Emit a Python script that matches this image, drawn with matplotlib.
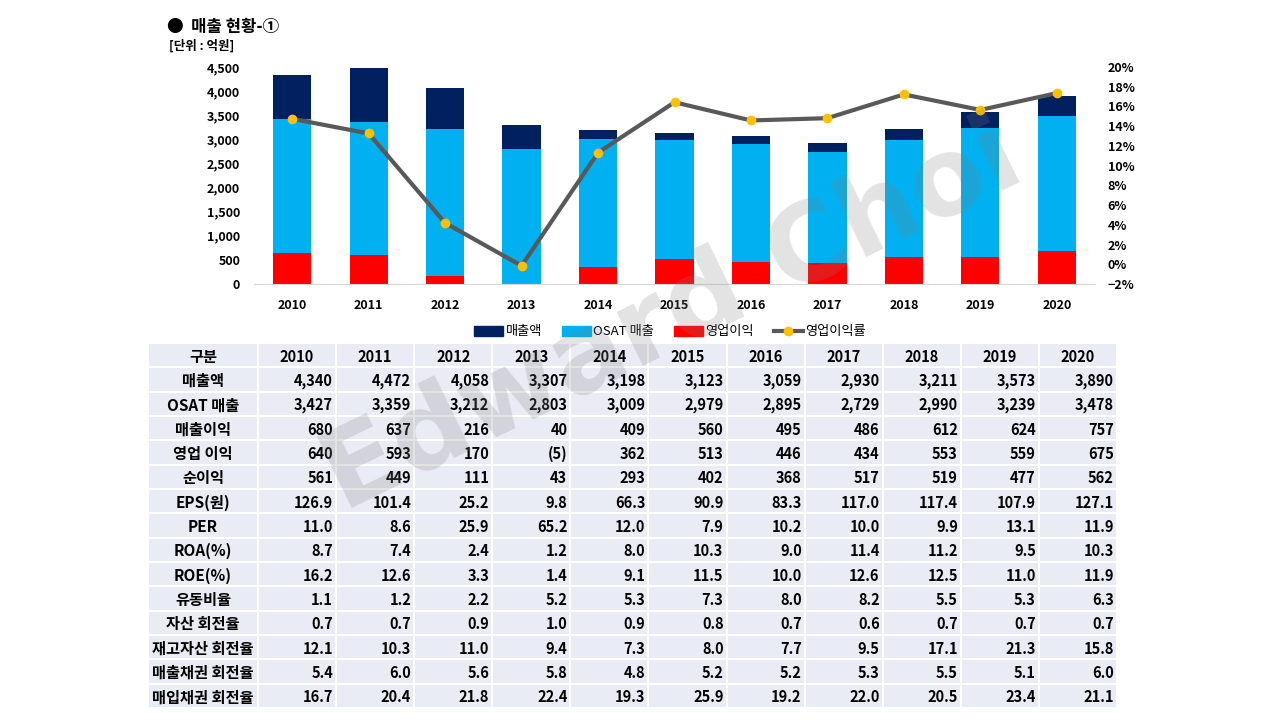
import matplotlib
matplotlib.use("Agg")
import matplotlib.pyplot as plt
from matplotlib.patches import Rectangle, Patch
from matplotlib.lines import Line2D
from matplotlib.ticker import PercentFormatter, FuncFormatter
import numpy as np

plt.rcParams['font.family'] = ['Noto Sans CJK KR', 'DejaVu Sans']

years = ['2010', '2011', '2012', '2013', '2014', '2015', '2016', '2017', '2018', '2019', '2020']

sales = [4340, 4472, 4058, 3307, 3198, 3123, 3059, 2930, 3211, 3573, 3890]
osat = [3427, 3359, 3212, 2803, 3009, 2979, 2895, 2729, 2990, 3239, 3478]
gross = [680, 637, 216, 40, 409, 560, 495, 486, 612, 624, 757]
op_income = [640, 593, 170, -5, 362, 513, 446, 434, 553, 559, 675]
net_income = [561, 449, 111, 43, 293, 402, 368, 517, 519, 477, 562]
eps = [126.9, 101.4, 25.2, 9.8, 66.3, 90.9, 83.3, 117.0, 117.4, 107.9, 127.1]
per = [11.0, 8.6, 25.9, 65.2, 12.0, 7.9, 10.2, 10.0, 9.9, 13.1, 11.9]
roa = [8.7, 7.4, 2.4, 1.2, 8.0, 10.3, 9.0, 11.4, 11.2, 9.5, 10.3]
roe = [16.2, 12.6, 3.3, 1.4, 9.1, 11.5, 10.0, 12.6, 12.5, 11.0, 11.9]
current_ratio = [1.1, 1.2, 2.2, 5.2, 5.3, 7.3, 8.0, 8.2, 5.5, 5.3, 6.3]
asset_turn = [0.7, 0.7, 0.9, 1.0, 0.9, 0.8, 0.7, 0.6, 0.7, 0.7, 0.7]
inv_turn = [12.1, 10.3, 11.0, 9.4, 7.3, 8.0, 7.7, 9.5, 17.1, 21.3, 15.8]
recv_turn = [5.4, 6.0, 5.6, 5.8, 4.8, 5.2, 5.2, 5.3, 5.5, 5.1, 6.0]
pay_turn = [16.7, 20.4, 21.8, 22.4, 19.3, 25.9, 19.2, 22.0, 20.5, 23.4, 21.1]

# operating margin from the table values
op_margin = [o / s for o, s in zip(op_income, sales)]

table_rows = [
    ('매출액', sales, 'int'),
    ('OSAT 매출', osat, 'int'),
    ('매출이익', gross, 'int'),
    ('영업 이익', op_income, 'int'),
    ('순이익', net_income, 'int'),
    ('EPS(원)', eps, 'dec'),
    ('PER', per, 'dec'),
    ('ROA(%)', roa, 'dec'),
    ('ROE(%)', roe, 'dec'),
    ('유동비율', current_ratio, 'dec'),
    ('자산 회전율', asset_turn, 'dec'),
    ('재고자산 회전율', inv_turn, 'dec'),
    ('매출채권 회전율', recv_turn, 'dec'),
    ('매입채권 회전율', pay_turn, 'dec'),
]

navy = '#002060'
blue = '#00B0F0'
red = '#FF0000'
line_c = '#595959'
dot_c = '#FFC000'

W, H = 1280, 720
fig = plt.figure(figsize=(12.8, 7.2), dpi=100)

# ---- chart ----
ax = fig.add_axes([254 / W, 1 - 284 / H, 841 / W, 217 / H])
x = np.arange(len(years))
ax.bar(x, sales, width=0.5, color=navy)
ax.bar(x, osat, width=0.5, color=blue)
ax.bar(x, op_income, width=0.5, color=red)
ax.set_xlim(-0.5, len(years) - 0.5)
ax.set_ylim(0, 4500)
ax.set_yticks(np.arange(0, 4501, 500))
ax.yaxis.set_major_formatter(FuncFormatter(lambda v, p: f'{int(v):,}'))
ax.set_xticks(x)
ax.set_xticklabels(years)
ax.tick_params(axis='both', length=0, labelsize=9)
ax.tick_params(axis='y', pad=10)
ax.tick_params(axis='x', pad=11)
for lab in ax.get_xticklabels() + ax.get_yticklabels():
    lab.set_fontweight('bold')
for s in ['top', 'left', 'right']:
    ax.spines[s].set_visible(False)
ax.spines['bottom'].set_color('#D9D9D9')

ax2 = ax.twinx()
ax2.plot(x, op_margin, color=line_c, lw=3, marker='o', ms=6,
         mfc=dot_c, mec=dot_c)
ax2.set_ylim(-0.02, 0.20)
ax2.set_yticks(np.arange(-0.02, 0.2001, 0.02))
ax2.yaxis.set_major_formatter(PercentFormatter(1.0, decimals=0))
ax2.tick_params(axis='y', length=0, labelsize=9, pad=9)
for lab in ax2.get_yticklabels():
    lab.set_fontweight('bold')
for s in ax2.spines.values():
    s.set_visible(False)

fig.text(167 / W, 1 - 27 / H, '●  매출 현황-①', fontsize=12, fontweight='bold',
         va='center', ha='left')
fig.text(169 / W, 1 - 46 / H, '[단위 : 억원]', fontsize=9, fontweight='bold',
         va='center', ha='left')

handles = [Patch(color=navy), Patch(color=blue), Patch(color=red),
           Line2D([0], [0], color=line_c, lw=3, marker='o', ms=6, mfc=dot_c, mec=dot_c)]
fig.legend(handles, ['매출액', 'OSAT 매출', '영업이익', '영업이익률'],
           loc='center', bbox_to_anchor=(670 / W, 1 - 332 / H), ncol=4,
           frameon=False, fontsize=9.5, handlelength=2.2, handleheight=0.7,
           handletextpad=0.2, columnspacing=1.5)

# ---- table ----
tw = 1117 - 148
th = 708 - 343
tab = fig.add_axes([148 / W, 1 - 708 / H, tw / W, th / H])
tab.set_xlim(0, tw)
tab.set_ylim(th, 0)
tab.axis('off')
first_w = 110
col_w = (tw - first_w) / len(years)
row_h = th / (len(table_rows) + 1)
cell_c = '#E9EBF5'


def fmt(v, kind):
    if kind == 'int':
        return f'({abs(v):,})' if v < 0 else f'{v:,}'
    return f'{v:.1f}'


header = ['구분'] + years
for r in range(len(table_rows) + 1):
    y0 = r * row_h
    tab.add_patch(Rectangle((0, y0), first_w, row_h, facecolor=cell_c,
                            edgecolor='white', lw=1.5))
    for c in range(len(years)):
        tab.add_patch(Rectangle((first_w + c * col_w, y0), col_w, row_h,
                                facecolor=cell_c, edgecolor='white', lw=1.5))
    yc = y0 + row_h / 2 + 1.5
    if r == 0:
        tab.text(first_w / 2, yc, header[0], ha='center', va='center',
                 fontsize=11, fontweight='bold')
        for c, yr in enumerate(years):
            tab.text(first_w + (c + 0.5) * col_w, yc, yr, ha='center', va='center',
                     fontsize=10.5, fontweight='bold')
    else:
        name, vals, kind = table_rows[r - 1]
        tab.text(first_w / 2, yc, name, ha='center', va='center',
                 fontsize=11, fontweight='bold')
        for c, v in enumerate(vals):
            tab.text(first_w + (c + 1) * col_w - 3, yc, fmt(v, kind), ha='right',
                     va='center', fontsize=10.5, fontweight='bold')

# watermark
fig.text(672 / W, 1 - 318 / H, 'Edward Choi', rotation=26, fontsize=78,
         fontweight='bold', color='gray', alpha=0.22, ha='center', va='center',
         family='DejaVu Sans', rotation_mode='anchor', zorder=10)

fig.savefig('out.png', dpi=100)
